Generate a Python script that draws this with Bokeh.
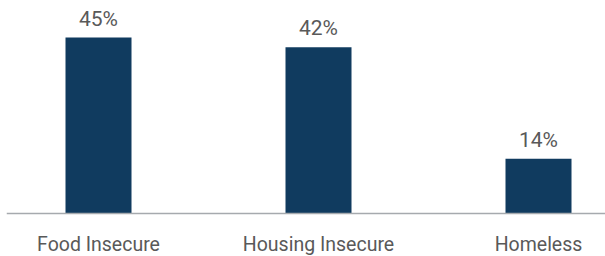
from bokeh.plotting import figure
from bokeh.models import ColumnDataSource, Range1d, Span
from bokeh.core.properties import value
from bokeh.embed import file_html
from bokeh.resources import INLINE

categories = ["Food Insecure", "Housing Insecure", "Homeless"]
percents = [45.0, 42.5, 14.0]
value_labels = ["45%", "42%", "14%"]

xs = list(range(len(categories)))
src = ColumnDataSource(dict(x=xs, top=percents, lab=value_labels,
                            cat=categories, zero=[0] * len(xs)))

W, H = 605, 256
p = figure(width=W, height=H, output_backend="svg", toolbar_location=None,
           x_range=Range1d(-92 / 220, 2 + 67 / 220),
           y_range=Range1d(-43 / 3.911, 213 / 3.911),
           x_axis_location=None, y_axis_location=None,
           min_border_left=6, min_border_right=0,
           min_border_top=0, min_border_bottom=0)
p.outline_line_color = None
p.grid.visible = False
p.background_fill_color = "white"
p.border_fill_color = "white"

p.vbar(x="x", top="top", bottom=0, width=0.3, source=src,
       fill_color="#103b5f", line_color=None)
p.add_layout(Span(location=0, dimension="width", line_color="#a6aaae",
                  line_width=1.5))
p.text(x="x", y="top", text="lab", source=src, text_align="center",
       text_baseline="alphabetic", y_offset=-19,
       text_font=value("Roboto"), text_font_size="21px", text_color="#595959")
p.text(x="x", y="zero", text="cat", source=src, text_align="center",
       text_baseline="alphabetic", y_offset=31,
       text_font=value("Roboto"), text_font_size="19.5px", text_color="#595959")

open("out.html", "w").write(file_html(p, INLINE))
